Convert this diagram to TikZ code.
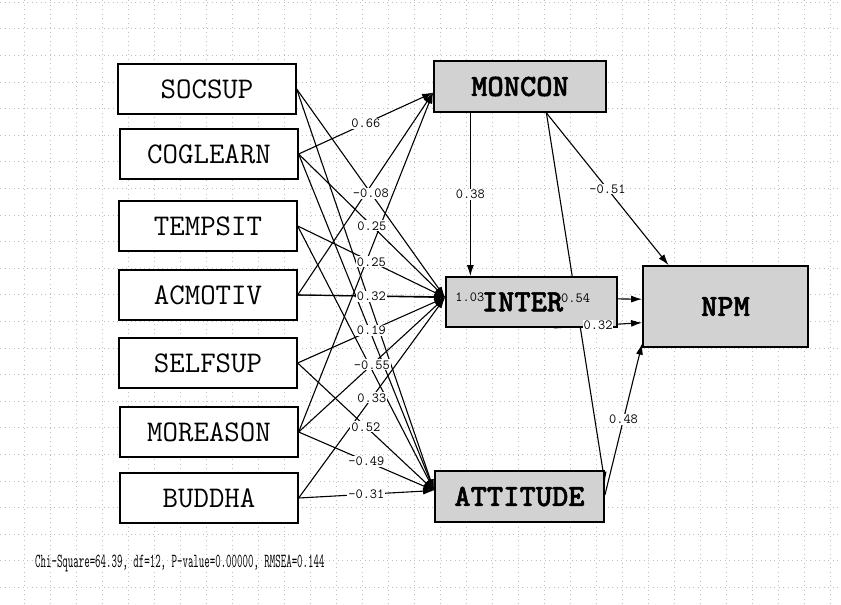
\documentclass[tikz,border=0pt]{standalone}
\usepackage{fontspec}
\newfontfamily\boldtt{lmmonolt10-bold.otf}[FakeBold=1.5]
\usetikzlibrary{arrows.meta,calc}
\pgfdeclarelayer{grid}
\pgfdeclarelayer{edges}
\pgfsetlayers{grid,edges,main}
\newcommand\lnk[4][coef]{%
  \begin{pgfonlayer}{edges}\draw[pathar] (#2) -- (#3);\end{pgfonlayer}%
  \path (#2) -- node[#1]{#4} (#3);}
\newcommand\lnknl[2]{%
  \begin{pgfonlayer}{edges}\draw[pathar] (#1) -- (#2);\end{pgfonlayer}}
\begin{document}
\begin{tikzpicture}[x=1pt,y=-1pt,
  obs/.style={draw, line width=1.3pt, minimum width=178pt, minimum height=50pt, inner sep=0pt, fill=white,
    font=\ttfamily\fontsize{30}{30}\selectfont},
  lat/.style={draw, line width=1.8pt, fill=gray!35, inner sep=0pt,
    font=\boldtt\fontsize{31}{31}\selectfont},
  pathar/.style={line width=1.1pt, -{Latex[length=11pt,width=7pt]}},
  coef/.style={font=\ttfamily\fontsize{14}{14}\selectfont, fill=white, inner sep=1pt},
  coefclear/.style={coef, fill=none},
  gridline/.style={gray!50, line width=0.5pt, dash pattern=on 1pt off 3.5pt}]
\useasboundingbox (0,0) rectangle (841,605);
\begin{pgfonlayer}{grid}
  \fill[white] (0,0) rectangle (841,605);
  \foreach \x in {24,50,...,840} \draw[gridline] (\x,0) -- (\x,605);
  \foreach \y in {2,28.6,...,604} \draw[gridline] (0,\y) -- (841,\y);
\end{pgfonlayer}

% observed variables
\node[obs] (SOCSUP)   at (207,89)  {SOCSUP};
\node[obs] (COGLEARN) at (209,154) {COGLEARN};
\node[obs] (TEMPSIT)  at (208,226) {TEMPSIT};
\node[obs] (ACMOTIV)  at (208,295) {ACMOTIV};
\node[obs] (SELFSUP)  at (208,363) {SELFSUP};
\node[obs] (MOREASON) at (209,432) {MOREASON};
\node[obs] (BUDDHA)   at (209,498) {BUDDHA};

% endogenous variables
\node[lat, minimum width=172pt, minimum height=51pt] (MONCON)   at (520,86.5)   {MONCON};
\node[lat, minimum width=171pt, minimum height=50pt] (INTER)    at (531.5,302)  {INTER\hspace*{18pt}};
\node[lat, minimum width=165pt, minimum height=81pt] (NPM)      at (725.5,306.5){NPM};
\node[lat, minimum width=169pt, minimum height=51pt] (ATTITUDE) at (519.5,496.5){ATTITUDE};

% paths from exogenous variables
\lnk{SOCSUP.east}{INTER.177}{-0.08}
\lnknl{SOCSUP.east}{ATTITUDE.176}
\lnk{COGLEARN.east}{MONCON.184}{0.66}
\lnk{COGLEARN.east}{INTER.177}{0.25}
\lnknl{COGLEARN.east}{ATTITUDE.176}
\lnk{TEMPSIT.east}{INTER.177}{0.25}
\lnknl{TEMPSIT.east}{ATTITUDE.176}
\lnknl{ACMOTIV.east}{MONCON.184}
\lnk{ACMOTIV.east}{INTER.177}{0.32}
\lnk[coefclear]{ACMOTIV.east}{NPM.175}{1.03}
\lnk{SELFSUP.east}{INTER.177}{0.19}
\lnk{SELFSUP.east}{ATTITUDE.176}{0.52}
\lnknl{MOREASON.east}{MONCON.184}
\lnk{MOREASON.east}{INTER.177}{-0.55}
\lnk{MOREASON.east}{ATTITUDE.176}{-0.49}
\lnk{BUDDHA.east}{INTER.177}{0.33}
\lnk{BUDDHA.east}{ATTITUDE.176}{-0.31}

% paths among endogenous variables
\lnk{MONCON.208}{MONCON.208 |- INTER.north}{0.38}
\lnk{MONCON.315}{NPM.144}{-0.51}
\lnk[coefclear]{MONCON.315}{ATTITUDE.9}{0.54}
\lnk{INTER.311}{NPM.191}{0.32}
\lnk{ATTITUDE.1}{NPM.204}{0.48}

% fit statistics
\node[anchor=base west, inner sep=0pt] (fitstat) at (35,567)
  {\scalebox{0.53}[1]{\ttfamily\fontsize{20}{20}\selectfont Chi-Square=64.39, df=12, P-value=0.00000, RMSEA=0.144}};
\end{tikzpicture}
\end{document}
